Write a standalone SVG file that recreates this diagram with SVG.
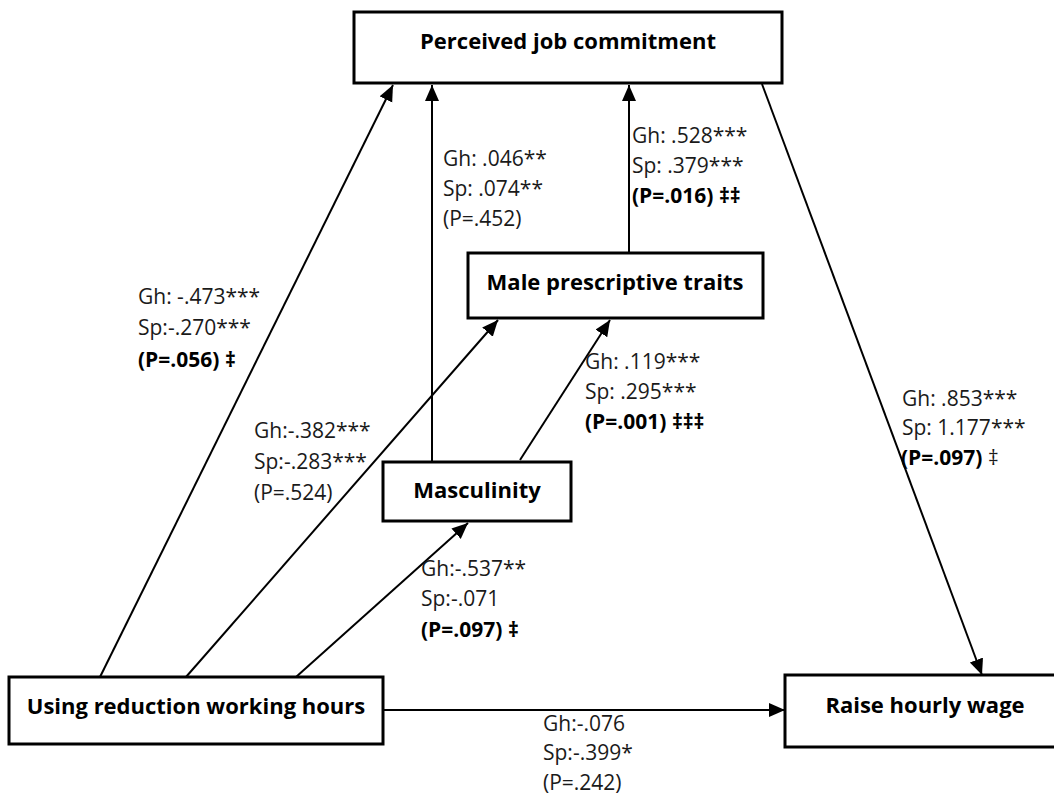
<svg xmlns="http://www.w3.org/2000/svg" width="1054" height="795" viewBox="0 0 1054 795">
<style>
.box{fill:#fff;stroke:#000;stroke-width:3}
.nt{font-family:"Open Sans","Liberation Sans",sans-serif;font-weight:bold;font-size:22px;fill:#000;text-anchor:middle}
.lb{font-family:"Open Sans","Liberation Sans",sans-serif;font-size:21px;fill:#1a1a1a}
.b{font-weight:bold;fill:#000}
.cn line{stroke:#000;stroke-width:2;fill:none;marker-end:url(#ah)}
</style>
<defs>
<marker id="ah" markerUnits="userSpaceOnUse" markerWidth="17" markerHeight="15" refX="16" refY="7" orient="auto">
<path d="M0,0 L16,7 L0,14 z" fill="#000"/>
</marker>
</defs>
<rect width="1054" height="795" fill="#fff"/>
<g id="connectors" class="cn">
<line x1="100" y1="677" x2="393" y2="85"/>
<line x1="432" y1="462" x2="432" y2="85"/>
<line x1="629" y1="253" x2="629" y2="85"/>
<line x1="762" y1="84" x2="982" y2="675"/>
<line x1="186" y1="677" x2="498" y2="320"/>
<line x1="296" y1="677" x2="468" y2="523"/>
<line x1="520" y1="460" x2="610" y2="320"/>
<line x1="383" y1="710" x2="785" y2="710"/>
</g>
<g id="node-commitment">
<rect class="box" x="354" y="12" width="428" height="71"/>
<text class="nt" x="568" y="49">Perceived job commitment</text>
</g>
<g id="node-male-traits">
<rect class="box" x="468" y="253" width="295" height="65"/>
<text class="nt" x="615" y="290">Male prescriptive traits</text>
</g>
<g id="node-masculinity">
<rect class="box" x="383" y="462" width="188" height="59"/>
<text class="nt" x="477" y="498">Masculinity</text>
</g>
<g id="node-using">
<rect class="box" x="9" y="677" width="374" height="67"/>
<text class="nt" x="196" y="714">Using reduction working hours</text>
</g>
<g id="node-raise">
<rect class="box" x="785" y="675" width="275" height="72"/>
<text class="nt" x="925" y="713">Raise hourly wage</text>
</g>
<g id="labels">
<text class="lb" x="443" y="166">Gh: .046**</text>
<text class="lb" x="443" y="196">Sp: .074**</text>
<text class="lb" x="443" y="226">(P=.452)</text>
<text class="lb" x="632" y="143">Gh: .528***</text>
<text class="lb" x="632" y="173">Sp: .379***</text>
<text class="lb b" x="632" y="203">(P=.016) ‡‡</text>
<text class="lb" x="138" y="304">Gh: -.473***</text>
<text class="lb" x="138" y="335">Sp:-.270***</text>
<text class="lb b" x="138" y="367">(P=.056) ‡</text>
<text class="lb" x="254" y="438">Gh:-.382***</text>
<text class="lb" x="254" y="469">Sp:-.283***</text>
<text class="lb" x="254" y="500">(P=.524)</text>
<text class="lb" x="585" y="369">Gh: .119***</text>
<text class="lb" x="585" y="399">Sp: .295***</text>
<text class="lb b" x="585" y="429">(P=.001) ‡‡‡</text>
<text class="lb" x="902" y="406">Gh: .853***</text>
<text class="lb" x="902" y="435">Sp: 1.177***</text>
<text class="lb" x="901" y="465"><tspan class="b">(P=.097)</tspan> ‡</text>
<text class="lb" x="421" y="576">Gh:-.537**</text>
<text class="lb" x="421" y="606">Sp:-.071</text>
<text class="lb b" x="421" y="637">(P=.097) ‡</text>
<text class="lb" x="543" y="731">Gh:-.076</text>
<text class="lb" x="543" y="760">Sp:-.399*</text>
<text class="lb" x="543" y="790">(P=.242)</text>
</g>
</svg>
